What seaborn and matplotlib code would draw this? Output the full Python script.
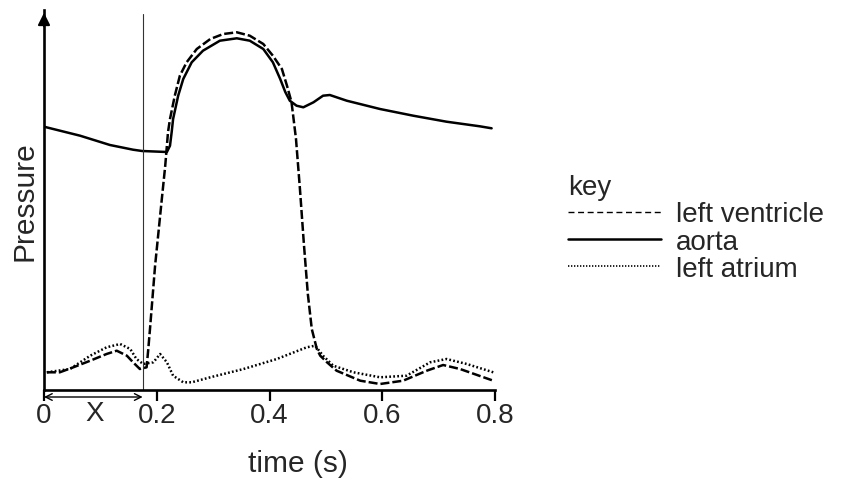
import matplotlib.pyplot as plt
import pandas as pd
import seaborn as sns
from matplotlib.lines import Line2D

# values (time in s, pressure in arbitrary units)
ventricle_t = [0.005, 0.028, 0.052, 0.082, 0.111, 0.129, 0.147, 0.158, 0.170,
               0.182, 0.185, 0.188, 0.197, 0.209, 0.215, 0.220, 0.2235, 0.232,
               0.241, 0.253, 0.271, 0.295, 0.318, 0.342, 0.365, 0.389, 0.406,
               0.422, 0.431, 0.439, 0.442, 0.447, 0.454, 0.461, 0.468, 0.475,
               0.484, 0.490, 0.502, 0.519, 0.561, 0.596, 0.637, 0.679, 0.708,
               0.738, 0.797]
ventricle_p = [17.7, 17.7, 22.7, 29.3, 36, 39.3, 34.3, 27.7, 21,
               22.7, 41, 61, 124, 191, 224, 258, 271, 294.3,
               314.3, 327.7, 341, 351, 356, 357.7, 354.3, 346, 334.3,
               321, 304.3, 288, 274.3, 251, 201, 146, 96, 61,
               41, 34.3, 27.7, 19.3, 9.3, 6, 9.3, 19.3, 25,
               21, 9.3]

aorta_t = [0.0, 0.064, 0.117, 0.158, 0.174, 0.218, 0.2235, 0.2265, 0.229,
           0.238, 0.247, 0.262, 0.282, 0.312, 0.342, 0.365, 0.389, 0.406,
           0.419, 0.428, 0.436, 0.448, 0.460, 0.478, 0.495, 0.507, 0.537,
           0.596, 0.655, 0.714, 0.773, 0.794]
aorta_p = [263.3, 254.3, 245, 240.3, 239, 238, 244.3, 258, 271,
           294.3, 311, 327.7, 339.3, 349.3, 351.7, 349.3, 341, 327.7,
           311, 298, 289.3, 284.3, 282.7, 287.7, 294.3, 295, 289.3,
           281, 274.3, 268.3, 263.7, 261.7]

atrium_t = [0.005, 0.046, 0.082, 0.111, 0.135, 0.153, 0.164, 0.176, 0.194,
            0.206, 0.218, 0.229, 0.247, 0.262, 0.295, 0.354, 0.413, 0.466,
            0.481, 0.495, 0.513, 0.549, 0.596, 0.643, 0.685, 0.714, 0.750,
            0.797]
atrium_p = [17.7, 21, 34.3, 42.7, 46, 41, 31, 26, 27.7,
            36, 27.7, 14.3, 7.7, 7.7, 12.7, 21, 31, 42.7,
            44.3, 34.3, 24.3, 17.7, 12.7, 14.3, 27.7, 31, 26,
            17.7]

series_names = ['left ventricle', 'aorta', 'left atrium']
x_ticks = [0, 0.2, 0.4, 0.6, 0.8]
x_tick_labels = ['0', '0.2', '0.4', '0.6', '0.8']
x_interval = 0.175


def main():
    sns.set_theme(style='ticks')
    plt.rcParams['font.family'] = ['Liberation Sans', 'DejaVu Sans']

    df = pd.concat([
        pd.DataFrame({'time': ventricle_t, 'pressure': ventricle_p,
                      'series': series_names[0]}),
        pd.DataFrame({'time': aorta_t, 'pressure': aorta_p,
                      'series': series_names[1]}),
        pd.DataFrame({'time': atrium_t, 'pressure': atrium_p,
                      'series': series_names[2]}),
    ], ignore_index=True)

    fig = plt.figure(figsize=(8.46, 4.81), dpi=100)
    ax = fig.add_axes([44 / 846, 90 / 481, 451 / 846, 380 / 481])

    sns.lineplot(data=df, x='time', y='pressure', hue='series',
                 style='series', sort=False, estimator=None, legend=False,
                 palette={n: 'black' for n in series_names},
                 dashes={'left ventricle': (3.6, 1.2), 'aorta': '',
                         'left atrium': (0.7, 0.9)},
                 linewidth=1.8, ax=ax)

    ax.set_xlim(0, 0.8)
    ax.set_ylim(0, 380)
    ax.axvline(x_interval, ymax=376 / 380, color='#333333', lw=0.8)

    for side in ['top', 'right']:
        ax.spines[side].set_visible(False)
    for side in ['left', 'bottom']:
        ax.spines[side].set_linewidth(1.9)
        ax.spines[side].set_color('black')

    ax.set_yticks([])
    ax.set_xticks(x_ticks)
    ax.set_xticklabels(x_tick_labels)
    ax.tick_params(axis='x', direction='out', length=8, width=1.6,
                   color='black', labelsize=20, pad=1)
    ax.set_xlabel('time (s)', fontsize=21.5)
    ax.xaxis.set_label_coords(0.563, -0.155)
    ax.set_ylabel('Pressure', fontsize=21.5, labelpad=4)

    # arrow head on the y axis
    ax.annotate('', xy=(0, 1.0), xytext=(0, 0.95), xycoords='axes fraction',
                arrowprops=dict(arrowstyle='-|>', color='black', lw=1.5,
                                mutation_scale=18))

    # interval X under the axis
    ax.annotate('', xy=(0, -7), xytext=(x_interval, -7),
                xycoords='data', annotation_clip=False,
                arrowprops=dict(arrowstyle='<->', color='black', lw=1.0,
                                mutation_scale=12, shrinkA=0, shrinkB=0))
    ax.text(x_interval / 2 + 0.003, -23, 'X', ha='center', va='center',
            fontsize=20, clip_on=False)

    handles = [
        Line2D([], [], color='black', lw=1.0, dashes=(4.3, 2.6)),
        Line2D([], [], color='black', lw=1.8),
        Line2D([], [], color='black', lw=1.2, dashes=(0.8, 1.0)),
    ]
    fig.legend(handles, series_names, title='key', loc='upper left',
               bbox_to_anchor=(568 / 846, 1 - 175 / 481), frameon=False,
               fontsize=20, title_fontsize=20, handlelength=3.35,
               handletextpad=0.54, labelspacing=0.05, borderpad=0,
               borderaxespad=0, alignment='left')

    plt.savefig('out.png', dpi=100)
    plt.close()


if __name__ == '__main__':
    main()
